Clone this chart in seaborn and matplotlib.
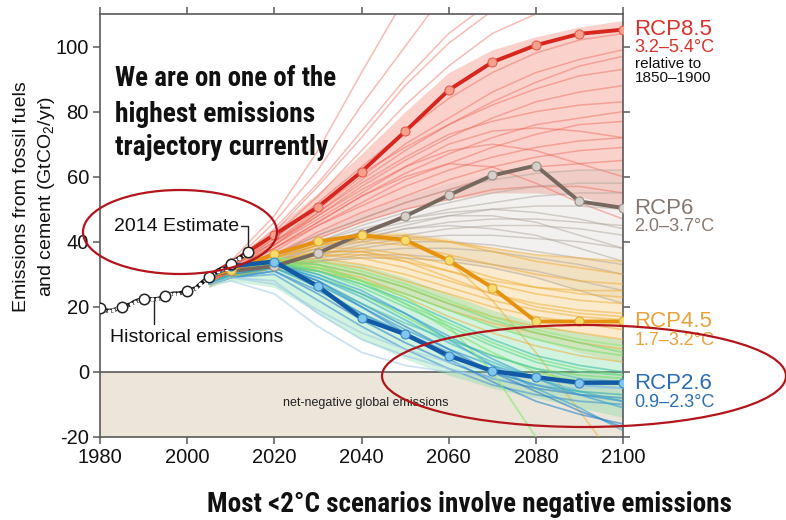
import os
import numpy as np
import pandas as pd
import matplotlib
matplotlib.use("Agg")
import matplotlib.pyplot as plt
import seaborn as sns
from matplotlib import font_manager as fm
from matplotlib.patches import Ellipse
from matplotlib.transforms import blended_transform_factory

# ---------------------------------------------------------------- data
hist_years = list(range(1980, 2015))
hist_values = [19.5, 19.0, 18.8, 18.9, 19.5, 19.8, 20.3, 20.8, 21.6, 22.1,
               22.3, 22.5, 22.3, 22.4, 22.7, 23.3, 23.9, 24.1, 24.1, 24.4,
               24.9, 25.3, 25.7, 27.0, 28.1, 29.3, 30.2, 31.1, 31.7, 31.5,
               33.3, 34.3, 35.0, 35.8, 36.8]
hist_marked_years = [1980, 1985, 1990, 1995, 2000, 2005, 2010, 2014]

years = [2005, 2010, 2020, 2030, 2040, 2050, 2060, 2070, 2080, 2090, 2100]

rcp85 = [29.5, 33.5, 42.2, 50.7, 61.5, 73.9, 86.6, 95.2, 100.4, 103.9, 105.2]
rcp6 = [29.5, 31.0, 32.5, 36.5, 42.5, 47.8, 54.3, 60.4, 63.4, 52.4, 50.4]
rcp45 = [29.5, 31.4, 36.2, 40.1, 42.0, 40.6, 34.3, 25.9, 15.5, 15.5, 15.5]
rcp26 = [29.5, 32.5, 33.9, 26.3, 16.5, 11.6, 5.0, 0.3, -1.6, -3.3, -3.3]

# scenario ensembles grouped by forcing category
high_runs = [
    [29, 34, 48, 68, 92, 115, 135, 150, 160, 165, 168],
    [28, 33, 46, 62, 82, 100, 118, 130, 140, 145, 148],
    [29, 33, 44, 58, 74, 90, 104, 114, 120, 124, 126],
    [28, 32, 43, 57, 72, 88, 101, 111, 118, 122, 124],
    [28, 32, 42, 54, 68, 82, 94, 104, 110, 113, 115],
    [28, 32, 41, 52, 63, 74, 84, 92, 98, 102, 104],
    [27, 31, 40, 50, 60, 70, 78, 86, 92, 96, 99],
    [27, 31, 39, 49, 59, 68, 76, 83, 89, 94, 97],
    [28, 32, 41, 51, 61, 69, 76, 82, 87, 91, 93],
    [27, 31, 39, 48, 57, 65, 72, 78, 83, 86, 88],
    [28, 32, 40, 49, 58, 66, 73, 77, 80, 82, 83],
    [27, 31, 38, 46, 54, 61, 67, 72, 76, 78, 80],
    [28, 31, 39, 47, 55, 63, 70, 74, 75, 74, 72],
    [27, 30, 37, 45, 52, 59, 64, 69, 73, 76, 77],
    [27, 31, 38, 45, 51, 57, 62, 66, 69, 71, 72],
    [28, 32, 40, 48, 56, 63, 68, 70, 68, 64, 60],
    [27, 30, 36, 43, 49, 54, 59, 63, 66, 68, 69],
    [27, 30, 36, 42, 47, 52, 56, 60, 63, 64, 65],
    [27, 30, 35, 41, 46, 50, 53, 56, 57, 57, 55],
    [28, 31, 38, 46, 54, 60, 64, 63, 58, 52, 47],
]
mid_high_runs = [
    [27, 30, 36, 42, 47, 52, 56, 59, 61, 62, 62],
    [27, 30, 35, 40, 45, 49, 52, 55, 57, 58, 58],
    [27, 30, 35, 39, 43, 47, 50, 52, 54, 55, 55],
    [27, 30, 34, 38, 42, 45, 48, 50, 51, 51, 50],
    [27, 30, 34, 38, 41, 44, 46, 47, 47, 46, 45],
    [27, 29, 33, 37, 40, 42, 44, 45, 45, 44, 42],
    [27, 29, 33, 36, 39, 41, 42, 42, 41, 40, 38],
    [27, 29, 33, 36, 38, 40, 40, 39, 37, 35, 33],
    [27, 29, 32, 35, 37, 38, 38, 37, 35, 33, 30],
    [27, 29, 32, 34, 36, 36, 35, 33, 31, 28, 25],
    [27, 30, 35, 40, 44, 47, 49, 50, 49, 47, 44],
    [27, 29, 33, 37, 41, 44, 45, 44, 42, 38, 34],
    [27, 30, 34, 39, 43, 46, 48, 48, 46, 42, 38],
    [27, 29, 32, 34, 35, 35, 34, 32, 29, 25, 21],
]
mid_low_runs = [
    [27, 30, 36, 40, 42, 42, 40, 37, 34, 32, 30],
    [27, 30, 35, 39, 40, 39, 36, 33, 30, 28, 27],
    [27, 30, 35, 38, 38, 36, 33, 29, 26, 24, 23],
    [27, 30, 34, 37, 37, 35, 31, 27, 24, 22, 21],
    [27, 29, 34, 36, 35, 32, 28, 24, 21, 19, 18],
    [27, 29, 33, 35, 33, 30, 26, 22, 19, 17, 16],
    [27, 29, 33, 34, 32, 28, 24, 20, 17, 15, 13],
    [27, 29, 33, 33, 30, 26, 21, 17, 14, 12, 10],
    [27, 29, 32, 32, 29, 24, 19, 15, 12, 9, 7],
    [27, 30, 35, 39, 41, 40, 34, 22, 6, -12, -30],
    [27, 30, 35, 39, 41, 41, 40, 38, 36, 35, 34],
    [27, 29, 34, 36, 36, 34, 31, 28, 26, 25, 25],
    [27, 29, 32, 31, 28, 23, 17, 12, 8, 5, 3],
    [27, 30, 34, 37, 37, 34, 29, 24, 20, 18, 17],
]
low_runs = [
    [27, 30, 33, 28, 20, 13, 7, 2, -2, -4, -5],
    [27, 30, 32, 26, 18, 11, 5, 0, -4, -6, -7],
    [27, 30, 34, 30, 24, 17, 10, 5, 1, -1, -2],
    [27, 29, 31, 24, 16, 9, 3, -2, -5, -7, -8],
    [27, 30, 33, 29, 23, 16, 9, 3, -2, -6, -9],
    [27, 29, 30, 22, 14, 7, 1, -4, -7, -9, -10],
    [27, 30, 35, 33, 28, 21, 13, 6, 0, -3, -4],
    [27, 29, 28, 18, 10, 5, 1, -2, -4, -5, -5],
    [27, 28, 24, 14, 6, 2, 0, -1, -2, -3, -3],
    [27, 30, 34, 31, 26, 20, 14, 8, 3, 0, -1],
    [27, 30, 32, 27, 20, 12, 4, -3, -9, -13, -16],
    [27, 30, 33, 30, 25, 18, 10, 2, -5, -11, -18],
    [27, 30, 34, 32, 28, 24, 19, 14, 10, 7, 5],
    [27, 30, 35, 34, 31, 27, 22, 17, 13, 10, 8],
    [27, 30, 34, 33, 30, 26, 21, 16, 12, 9, 6],
    [27, 30, 33, 31, 27, 22, 16, 10, 5, 2, 0],
    [27, 30, 34, 32, 28, 23, 14, 0, -20, -40, -60],
    [27, 29, 31, 25, 18, 12, 6, 0, -4, -7, -9],
    [27, 30, 33, 28, 21, 14, 7, 0, -6, -12, -17],
    [27, 29, 32, 27, 21, 15, 10, 5, 1, -2, -3],
    [27, 30, 34, 31, 27, 21, 15, 9, 4, 1, -1],
    [27, 30, 33, 29, 24, 18, 11, 4, -2, -7, -11],
    [27, 29, 27, 19, 12, 7, 3, 0, -2, -4, -5],
]
low_run_colors = ["#2f98d0", "#33b0b0", "#6fe06a", "#2f86c8", "#3ab4c4",
                  "#4a98d4", "#86e26c", "#9cc8e8", "#a8d0ec", "#62d88a",
                  "#2f88cc", "#3aa2d2", "#7ee276", "#92e87c", "#70dc78",
                  "#44c2a8", "#86e870", "#3c92d0", "#2f80c4", "#52c4b8",
                  "#70de80", "#36a0cc", "#a4cce8"]

# density envelopes of each ensemble
high_lo = [26, 30, 36, 41, 46, 50, 53, 55, 55, 54, 50]
high_hi = [30, 34, 44, 55, 67, 80, 92, 99, 103, 106, 108]
mid_high_lo = [26, 29, 32, 34, 35, 35, 34, 32, 29, 25, 21]
mid_high_hi = [29, 31, 37, 43, 49, 54, 58, 61, 62, 62, 62]
mid_low_lo = [26, 29, 32, 31, 28, 24, 19, 14, 10, 6, 3]
mid_low_hi = [29, 31, 37, 41, 43, 43, 41, 38, 36, 35, 34]
low_lo = [26, 28, 26, 18, 10, 4, -1, -5, -8, -11, -14]
low_hi = [29, 31, 36, 35, 33, 29, 24, 19, 15, 12, 10]

# ---------------------------------------------------------------- style
sns.set_theme(style="ticks")
plt.rcParams["font.family"] = ["Liberation Sans", "DejaVu Sans"]
plt.rcParams["axes.unicode_minus"] = False
plt.rcParams["mathtext.fontset"] = "custom"
plt.rcParams["mathtext.rm"] = "Liberation Sans"
plt.rcParams["mathtext.it"] = "Liberation Sans:italic"


def headline_face():
    """Narrowest bold face available for the headline captions."""
    files = [f.fname for f in fm.fontManager.ttflist]
    for pattern in ["NotoSans-ExtraCondensedBold", "RobotoCondensed-Bold",
                    "NotoSans-CondensedBold", "LiberationSansNarrow-Bold",
                    "DejaVuSansCondensed-Bold", "NotoSans-SemiCondensedBold"]:
        for fn in files:
            base = os.path.basename(fn)
            if pattern in base and "Italic" not in base:
                return fm.FontProperties(fname=fn)
    return fm.FontProperties(family="Liberation Sans", weight="bold")


AX_GREY = "#5a5a5a"
fig = plt.figure(figsize=(7.86, 5.2), dpi=100)
ax = fig.add_axes([100 / 786, 83 / 520, 523 / 786, 423 / 520])


def long_form(runs, group):
    rows = []
    for i, run in enumerate(runs):
        for yr, v in zip(years, run):
            rows.append({"year": yr, "value": v, "run": f"{group}{i}"})
    return pd.DataFrame(rows)


# net-negative region and zero line
ax.fill_between([1980, 2100], -20, 0, color="#ece6da", lw=0, zorder=0)
ax.axhline(0, color=AX_GREY, lw=1.2, zorder=1)

# ensemble envelopes
for lo, hi, col, a in [(high_lo, high_hi, "#f07060", 0.32),
                       (mid_high_lo, mid_high_hi, "#c9c0b8", 0.22),
                       (mid_low_lo, mid_low_hi, "#f2b848", 0.28),
                       (low_lo, low_hi, "#6ad89a", 0.30)]:
    ax.fill_between(years, lo, hi, color=col, alpha=a, lw=0, zorder=1)

# ensemble members
sns.lineplot(data=long_form(high_runs, "h"), x="year", y="value", units="run",
             estimator=None, color="#ec5e4e", alpha=0.42, lw=1.1, ax=ax,
             zorder=2)
sns.lineplot(data=long_form(mid_high_runs, "m"), x="year", y="value",
             units="run", estimator=None, color="#b0a69e", alpha=0.5, lw=1.1,
             ax=ax, zorder=2)
sns.lineplot(data=long_form(mid_low_runs, "o"), x="year", y="value",
             units="run", estimator=None, color="#eeac34", alpha=0.5, lw=1.2,
             ax=ax, zorder=3)
sns.lineplot(data=long_form(low_runs, "b"), x="year", y="value", hue="run",
             palette=dict(zip([f"b{i}" for i in range(len(low_runs))],
                              low_run_colors)),
             estimator=None, alpha=0.6, lw=1.3, legend=False, ax=ax, zorder=3)

# representative pathways
pathways = [
    (rcp85, "#d7261e", "#f4a08c", "#e06050", 2.8),
    (rcp6, "#76685e", "#d6d0ca", "#9a8f86", 2.8),
    (rcp45, "#e6920e", "#f6dc6a", "#e0a93a", 2.8),
    (rcp26, "#125aa6", "#80c6ee", "#3d86c6", 3.2),
]
for vals, lc, fc, ec, lw in pathways:
    sns.lineplot(x=years, y=vals, color=lc, lw=lw, ax=ax, zorder=5,
                 marker="o", markersize=6.5, markerfacecolor=fc,
                 markeredgecolor=ec, markeredgewidth=0.8,
                 markevery=list(range(1, len(years))))

# historical record
sns.lineplot(x=hist_years, y=hist_values, color="#111111", lw=3.0, ax=ax,
             zorder=6)
ax.plot(hist_years, hist_values, ls="none", marker="o", ms=1.8,
        mfc="white", mec="white", zorder=7)
marked = [hist_values[hist_years.index(y)] for y in hist_marked_years]
ax.plot(hist_marked_years, marked, ls="none", marker="o", ms=7.5,
        mfc="white", mec="#222222", mew=1.1, zorder=8)

# axes
ax.set_xlim(1980, 2100)
ax.set_ylim(-20, 110)
ax.set_xticks([1980, 2000, 2020, 2040, 2060, 2080, 2100])
ax.set_yticks([-20, 0, 20, 40, 60, 80, 100])
ax.set_xlabel("")
ax.set_ylabel("")
for side in ["left", "right", "top", "bottom"]:
    ax.spines[side].set_visible(True)
    ax.spines[side].set_color(AX_GREY)
    ax.spines[side].set_linewidth(1.2)
ax.tick_params(axis="both", which="both", direction="out", length=5,
               width=1.1, color=AX_GREY, labelsize=14.5, labelcolor="#111111",
               top=True, right=True, labeltop=False, labelright=False, pad=3)

# axis title
fig.text(35 / 786, 1 - 197 / 520,
         "Emissions from fossil fuels\nand cement (GtCO$_2$/yr)",
         rotation=90, ha="center", va="center", fontsize=14,
         linespacing=1.35, color="#111111")

# in-plot labels
ax.text(2011.9, 44.8, "2014 Estimate", ha="right", va="center",
        fontsize=14, color="#111111", zorder=9)
ax.plot([2012.3, 2013.9, 2013.9], [44.8, 44.8, 38.6], color="#222222",
        lw=1.0, zorder=9)
ax.text(1982.3, 10.5, "Historical emissions", ha="left", va="center",
        fontsize=14, color="#111111", zorder=9)
ax.plot([1992.4, 1992.4], [21.8, 14.6], color="#222222", lw=1.0, zorder=9)
ax.text(2022, -9.5, "net-negative global emissions", ha="left", va="center",
        fontsize=9, color="#222222", zorder=9)

# pathway labels on the right
tr = blended_transform_factory(ax.transAxes, ax.transData)
right_labels = [
    ("RCP8.5", 105.3, 16, "#d8322a"),
    ("3.2–5.4°C", 99.6, 13, "#d8322a"),
    ("relative to", 94.6, 11, "#111111"),
    ("1850–1900", 90.4, 11, "#111111"),
    ("RCP6", 50.3, 16, "#857870"),
    ("2.0–3.7°C", 44.8, 13, "#857870"),
    ("RCP4.5", 15.5, 16, "#eaa23a"),
    ("1.7–3.2°C", 9.6, 13, "#eaa23a"),
    ("RCP2.6", -3.6, 16, "#2a6db2"),
    ("0.9–2.3°C", -9.4, 13, "#2a6db2"),
]
for txt, yv, fs, col in right_labels:
    ax.text(1.022, yv, txt, transform=tr, ha="left", va="center",
            fontsize=fs, color=col, clip_on=False, zorder=9)

# headline captions, each sized to its column width in pixels
face = headline_face()
captions = [
    ("We are on one of the", 115, 86, 220),
    ("highest emissions", 115, 122, 200),
    ("trajectory currently", 115, 155, 213),
    ("Most <2°C scenarios involve negative emissions", 207, 512, 523),
]
cap_texts = []
for txt, x0, base, width in captions:
    t = fig.text(x0 / 786, 1 - base / 520, txt, ha="left", va="baseline",
                 fontproperties=face, color="#111111")
    t.set_fontsize(20)
    cap_texts.append((t, width))

fig.canvas.draw()
renderer = fig.canvas.get_renderer()
for t, width in cap_texts:
    w = t.get_window_extent(renderer).width
    t.set_fontsize(t.get_fontsize() * width / w)

# highlight rings
for cx, cy, w, h in [(180, 232, 194, 84), (584, 376, 404, 102)]:
    fig.patches.append(Ellipse((cx / 786, 1 - cy / 520), w / 786, h / 520,
                               transform=fig.transFigure, fill=False,
                               edgecolor="#b3151c", lw=1.6, zorder=20))

fig.savefig("out.png", dpi=100)
